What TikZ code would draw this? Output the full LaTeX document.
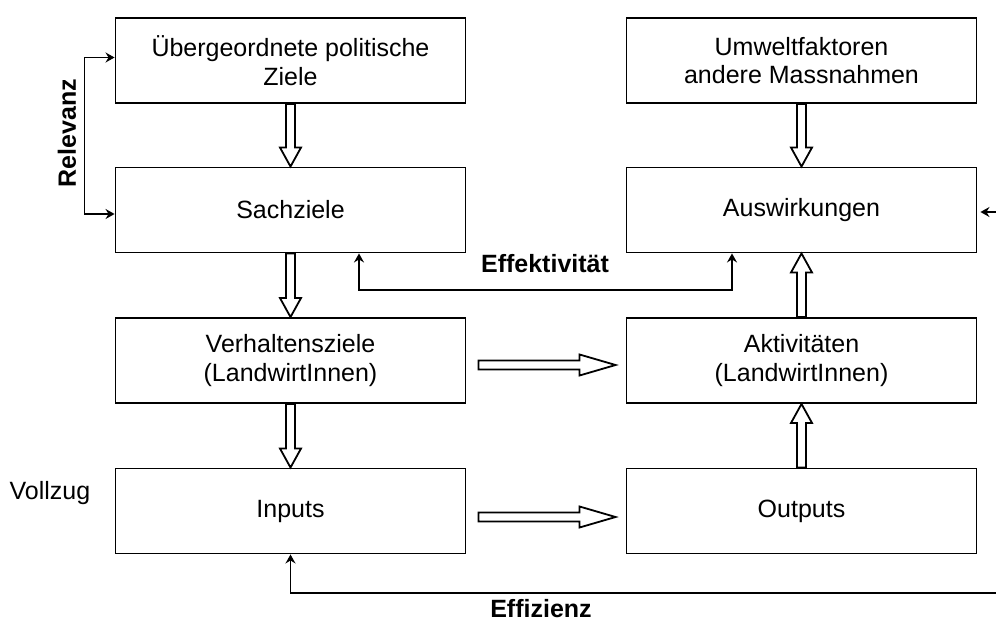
\documentclass[tikz,border=0pt]{standalone}
\usepackage{fontspec}
\setmainfont{Liberation Sans}
\usetikzlibrary{arrows.meta,calc}

% hollow block arrow between two anchors, #3 = head length
\newcommand{\hollowarrow}[3]{%
  \path (#1) coordinate (ha-s) (#2) coordinate (ha-e);
  \path ($(ha-e)!#3!(ha-s)$) coordinate (ha-b);
  \draw[line width=1.8pt, fill=white, line join=miter]
    ($(ha-s)!4.5pt!90:(ha-e)$) -- ($(ha-b)!4.5pt!-90:(ha-s)$)
    -- ($(ha-b)!10.5pt!-90:(ha-s)$) -- (ha-e)
    -- ($(ha-b)!10.5pt!90:(ha-s)$) -- ($(ha-b)!4.5pt!90:(ha-s)$)
    -- ($(ha-s)!4.5pt!-90:(ha-e)$) -- cycle;}

\begin{document}
\begin{tikzpicture}[
  x=1pt, y=-1pt,
  box/.style={draw, line width=1.9pt, minimum width=350pt, minimum height=85pt,
    align=center, font=\fontsize{25}{28.5}\selectfont, inner sep=0pt},
  lbl/.style={font=\fontsize{25}{28}\selectfont, inner sep=0pt},
  blbl/.style={font=\fontsize{25}{28}\selectfont\bfseries, inner sep=0pt},
  conn/.style={line width=1.8pt, -{Stealth[length=9pt, width=10pt, inset=3pt]}}
]
\useasboundingbox (0,0) rectangle (996,624);

% left column
\node[box] (ziele) at (290.5,60.5) {Übergeordnete politische\\Ziele};
\node[box] (sach) at (290.5,210) {Sachziele};
\node[box] (verh) at (290.5,360.5) {Verhaltensziele\\(LandwirtInnen)};
\node[box] (inp) at (290.5,511) {Inputs};

% right column
\node[box] (umw) at (801.5,60.5) {Umweltfaktoren\\andere Massnahmen};
\node[box] (ausw) at (801.5,210) {Auswirkungen};
\node[box] (akt) at (801.5,360.5) {Aktivitäten\\(LandwirtInnen)};
\node[box] (outp) at (801.5,511) {Outputs};

% block arrows
\hollowarrow{ziele.south}{sach.north}{19pt}
\hollowarrow{sach.south}{verh.north}{19pt}
\hollowarrow{verh.south}{inp.north}{19pt}
\hollowarrow{umw.south}{ausw.north}{19pt}
\hollowarrow{akt.north}{ausw.south}{19pt}
\hollowarrow{outp.north}{akt.south}{19pt}
\hollowarrow{$(verh.east)+(12,4.5)$}{$(akt.west)+(-10,4.5)$}{36pt}
\hollowarrow{$(inp.east)+(12,6)$}{$(outp.west)+(-10,6)$}{36pt}

% Relevanz
\draw[conn, {Stealth[length=9pt, width=10pt, inset=3pt]}-{Stealth[length=9pt, width=10pt, inset=3pt]}]
  ([yshift=3pt]ziele.west) -- ++(-30,0) |- ([yshift=-4pt]sach.west);
\node[blbl, rotate=90] (relevanz) at (67,133) {Relevanz};

% Effektivitaet
\draw[conn, {Stealth[length=9pt, width=10pt, inset=3pt]}-{Stealth[length=9pt, width=10pt, inset=3pt]}]
  ([xshift=68.5pt]sach.south) -- ++(0,36.5) -| ([xshift=-69.5pt]ausw.south);
\node[blbl] (effekt) at (545,264) {Effektivität};

% right side input
\coordinate (auswin) at (996,212);
\draw[conn, shorten >=3pt] (auswin) -- (auswin -| ausw.east);

% Effizienz
\coordinate (effin) at (996,593);
\draw[conn] (effin) -| (inp.south);
\node[blbl] (effiz) at (541,609) {Effizienz};

\node[lbl] (vollzug) at (50,493) {Vollzug};
\end{tikzpicture}
\end{document}
